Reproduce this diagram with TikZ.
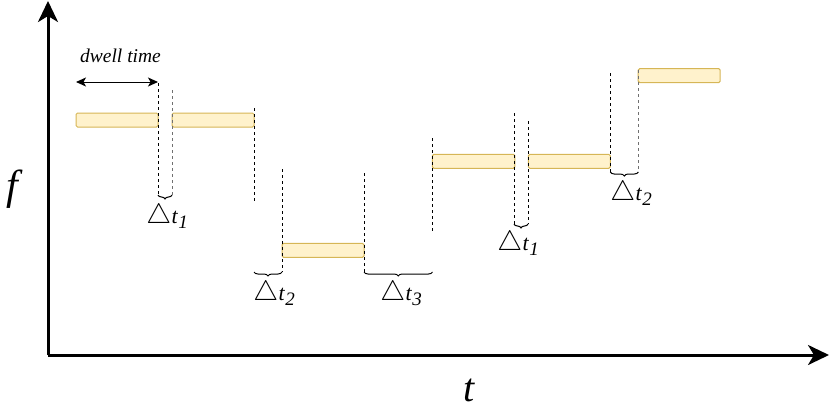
\documentclass[tikz,border=0pt]{standalone}
\usepackage{fontspec}
\usepackage{graphicx}
\setmainfont{Liberation Serif}
\usetikzlibrary{arrows.meta,decorations.pathreplacing}
\definecolor{barfill}{HTML}{FFF2CC}
\definecolor{barline}{HTML}{D6B656}
\definecolor{dgray}{HTML}{707070}
\tikzset{
  bar/.style={draw=barline, fill=barfill, line width=1pt, rounded corners=1.5pt, inner sep=0pt, minimum height=14pt},
  vdash/.style={draw=black, line width=1pt, dash pattern=on 3pt off 3pt},
  vdashg/.style={vdash, draw=dgray},
  axis/.style={line width=3pt, -{Stealth[length=21pt,width=20pt,inset=6pt]}},
  bracedown/.style={decorate, decoration={brace, mirror, amplitude=4pt}, line width=1pt},
  dlabel/.style={inner sep=0pt, anchor=base},
  biglab/.style={font=\fontsize{42}{44}\selectfont\itshape, inner sep=0pt, anchor=base},
}
\newcommand{\dt}[1]{{\fontsize{22}{24}\selectfont\scalebox{1.35}{$\triangle$}}\kern0.5pt{\fontsize{22}{24}\selectfont\itshape t}\kern0.5pt\raisebox{-5pt}{\fontsize{19}{20}\selectfont\itshape #1}}
\begin{document}
\begin{tikzpicture}[x=1pt,y=-1pt]
\useasboundingbox (0,0) rectangle (830,408);
% axes
\coordinate (o) at (48,355);
\coordinate (ytop) at (48,1);
\coordinate (xend) at (829,355);
\draw[axis] (o) -- (ytop);
\draw[axis] (o) -- (xend);
\node[biglab] (flab) at (12,199) {f};
\node[biglab, font=\fontsize{40}{40}\selectfont\itshape] (tlab) at (469,401) {t};
% bars
\node[bar, minimum width=82pt] (b1) at (117,120) {};
\node[bar, minimum width=82pt] (b2) at (213,120) {};
\node[bar, minimum width=82pt] (b3) at (323,250.3) {};
\node[bar, minimum width=82.5pt] (b4) at (473.6,161.3) {};
\node[bar, minimum width=82pt] (b5) at (569.3,161.3) {};
\node[bar, minimum width=82pt] (b6) at (679.2,75.6) {};
% dwell time
\coordinate (dwl) at (76,82);
\coordinate (dwr) at (158,82);
\draw[line width=1pt, {Stealth[length=10pt,width=9pt,inset=2.5pt]}-{Stealth[length=10pt,width=9pt,inset=2.5pt]}] (dwl) -- (dwr);
\node[font=\fontsize{19.5}{20}\selectfont\itshape, inner sep=0pt, anchor=base] (dwt) at (120.5,62) {dwell time};
% dashed lines
\coordinate (d1t) at (158,83); \coordinate (d1b) at (158,195);
\coordinate (d2t) at (172,90); \coordinate (d2b) at (172,195);
\coordinate (d3t) at (254,108); \coordinate (d3b) at (254,202);
\coordinate (d4t) at (282,169); \coordinate (d4b) at (282,272);
\coordinate (d5t) at (364,173); \coordinate (d5b) at (364,272);
\coordinate (d6t) at (432.5,138); \coordinate (d6b) at (432.5,233);
\coordinate (d7t) at (514,113); \coordinate (d7b) at (514,224);
\coordinate (d8t) at (528,121); \coordinate (d8b) at (528,224);
\coordinate (d9t) at (610.3,73); \coordinate (d9b) at (610.3,172);
\coordinate (d10t) at (638.3,70); \coordinate (d10b) at (638.3,172);
\draw[vdash] (d1t) -- (d1b);
\draw[vdashg] (d2t) -- (d2b);
\draw[vdash] (d3t) -- (d3b);
\draw[vdash] (d4t) -- (d4b);
\draw[vdash] (d5t) -- (d5b);
\draw[vdash] (d6t) -- (d6b);
\draw[vdash] (d7t) -- (d7b);
\draw[vdash] (d8t) -- (d8b);
\draw[vdash] (d9t) -- (d9b);
\draw[vdashg] (d10t) -- (d10b);
% braces
\coordinate (br3r) at (432.5,272);
\draw[bracedown] (d1b) -- (d2b);
\draw[bracedown] (d3b |- d4b) -- (d4b);
\draw[bracedown] (d5b) -- (br3r);
\draw[bracedown] (d7b) -- (d8b);
\draw[bracedown] (d9b) -- (d10b);
% labels
\node[dlabel] (l1) at (167,223) {\dt{1}};
\node[dlabel] (l2) at (274,300) {\dt{2}};
\node[dlabel] (l3) at (401,300) {\dt{3}};
\node[dlabel] (l4) at (518,250) {\dt{1}};
\node[dlabel] (l5) at (631,200) {\dt{2}};
\end{tikzpicture}
\end{document}
